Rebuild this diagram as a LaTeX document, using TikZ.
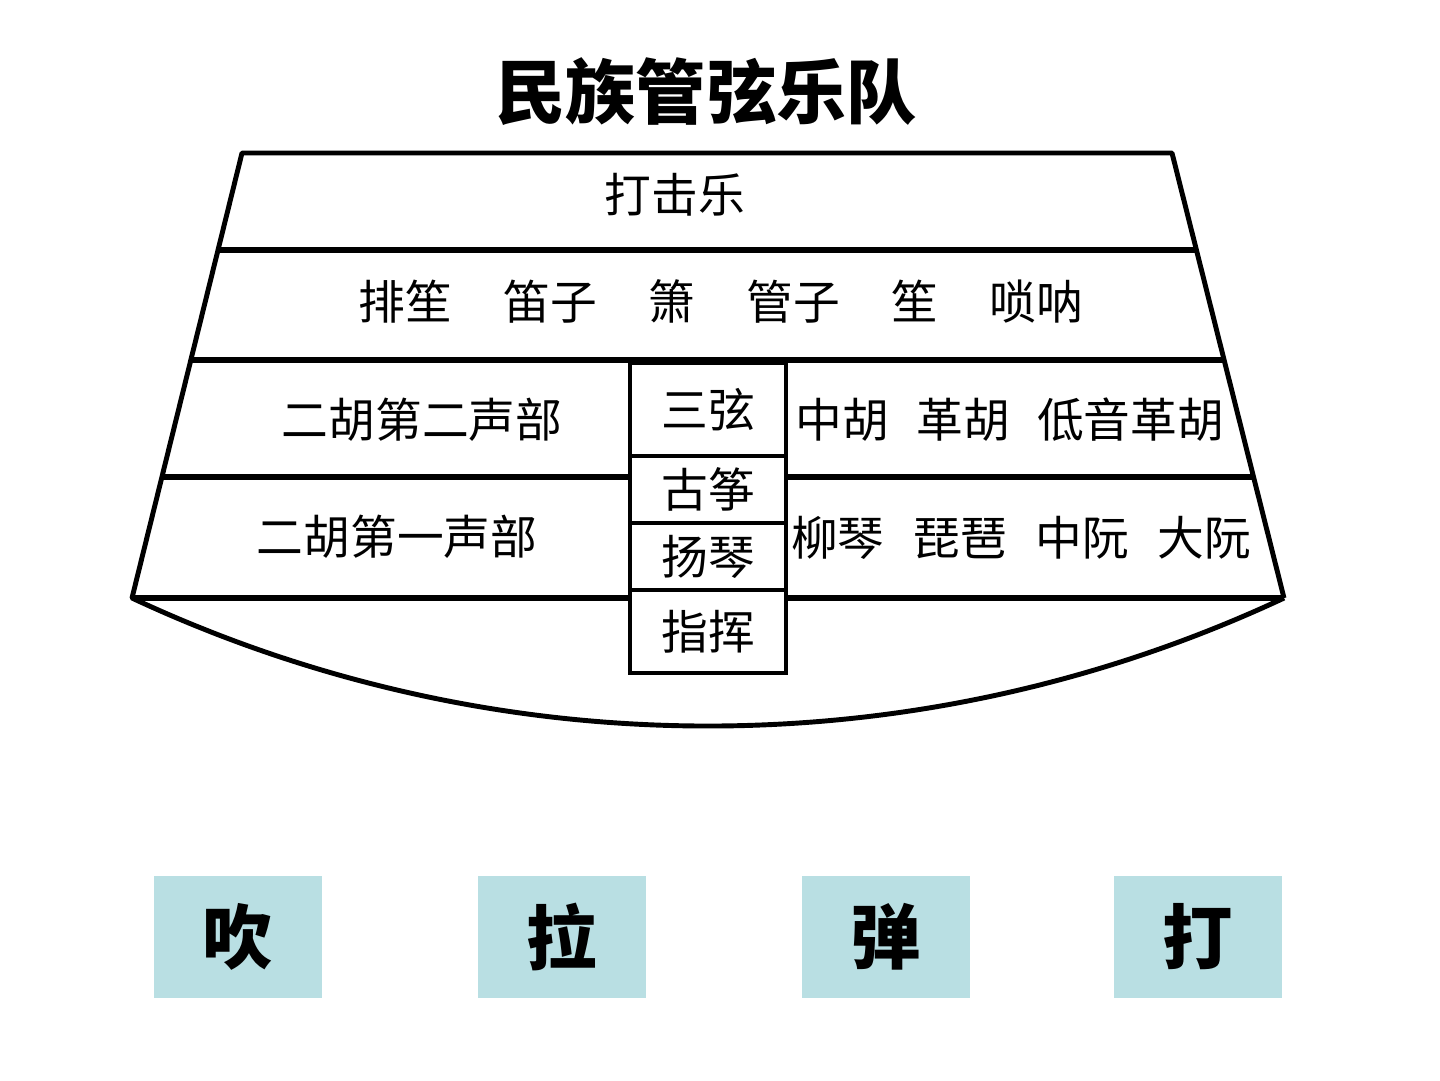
\documentclass[tikz,border=0pt]{standalone}
\usepackage{fontspec}
\setmainfont{Noto Sans CJK SC}
\usetikzlibrary{calc,positioning}

\definecolor{boxblue}{RGB}{185,223,227}

\tikzset{
  rim/.style={line width=1.4pt, line join=round},
  rowline/.style={line width=1.7pt},
  cell/.style={draw, fill=white, line width=1.15pt, minimum width=15.6mm, inner sep=0pt,
    outer sep=0pt, font=\fontsize{13.3}{16}\selectfont},
  seat/.style={inner sep=0pt, font=\fontsize{13.3}{16}\selectfont},
  family/.style={fill=boxblue, minimum width=16.8mm, minimum height=12.2mm, inner sep=0pt,
    font=\fontsize{20}{24}\selectfont\bfseries},
}

\begin{document}
\begin{tikzpicture}[x=0.1mm, y=-0.1mm]
\useasboundingbox (0,0) rectangle (1440,1080);

\node[font=\fontsize{20}{24}\selectfont\bfseries] (title) at (706,92) {民族管弦乐队};

% stage outline
\coordinate (tl) at (242,153);
\coordinate (tr) at (1172,153);
\coordinate (bl) at (132,598);
\coordinate (br) at (1284,598);
\draw[rim] (br) -- (tr) -- (tl) -- (bl) arc[start angle=115.06, end angle=64.94, radius=1360];

% rows
\draw[rowline] ($(tl)!0.218!(bl)$) -- ($(tr)!0.218!(br)$);
\draw[rowline] ($(tl)!0.465!(bl)$) -- ($(tr)!0.465!(br)$);
\draw[rowline] ($(tl)!0.728!(bl)$) -- ($(tr)!0.728!(br)$);
\draw[rowline] (bl) -- (br);

\node[seat] (percussion) at (675,195) {打击乐};
\node[seat] (winds) at (721,301) {排笙\hspace{1.1em}笛子\hspace{1.1em}箫\hspace{1.1em}管子\hspace{1.1em}笙\hspace{1.1em}唢呐};
\node[seat] (erhuB) at (422,420) {二胡第二声部};
\node[seat] (erhuA) at (397,537) {二胡第一声部};
\node[seat] (bowsR) at (1010,420) {中胡\hspace{0.58em}革胡\hspace{0.58em}低音革胡};
\node[seat] (pluckR) at (1021,538) {柳琴\hspace{0.62em}琵琶\hspace{0.62em}中阮\hspace{0.6em}大阮};

% middle column
\node[cell, minimum height=9.3mm] (sanxian) at (708,409.5) {三弦};
\node[cell, minimum height=6.7mm, below=0pt of sanxian] (guzheng) {古筝};
\node[cell, minimum height=6.7mm, below=0pt of guzheng] (yangqin) {扬琴};
\node[cell, minimum height=8.3mm, below=0pt of yangqin] (conductor) {指挥};

% instrument families
\foreach \n/\x/\t in {chui/238/吹, la/562/拉, tan/886/弹, da/1198/打}
  \node[family] (\n) at (\x,937) {\t};
\end{tikzpicture}
\end{document}
